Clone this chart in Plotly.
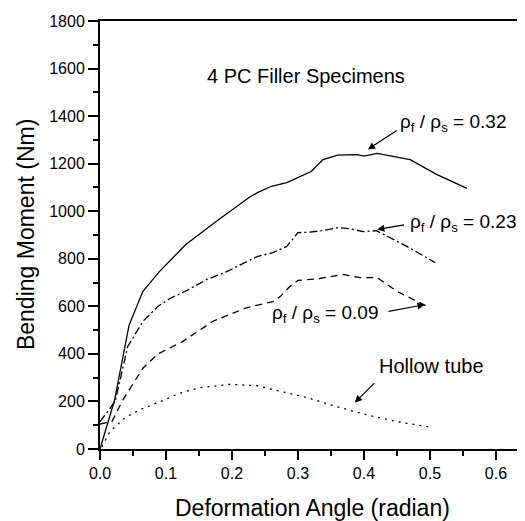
import plotly.graph_objects as go

# ---- data ----
solid_x = [0, 0.022, 0.044, 0.065, 0.09, 0.13, 0.18, 0.227, 0.24, 0.26, 0.283, 0.32, 0.338, 0.36, 0.39, 0.40, 0.42, 0.47, 0.51, 0.556]
solid_y = [0, 205, 520, 663, 746, 860, 965, 1060, 1080, 1105, 1120, 1167, 1217, 1236, 1238, 1232, 1243, 1217, 1155, 1096]

dashdot_x = [0, 0.023, 0.042, 0.065, 0.088, 0.106, 0.132, 0.162, 0.192, 0.238, 0.262, 0.283, 0.3, 0.318, 0.336, 0.361, 0.379, 0.399, 0.419, 0.465, 0.508]
dashdot_y = [115, 200, 431, 537, 600, 633, 667, 713, 746, 809, 826, 852, 910, 912, 918, 931, 926, 914, 918, 852, 784]

dash_x = [0, 0.018, 0.035, 0.065, 0.088, 0.124, 0.171, 0.222, 0.262, 0.273, 0.288, 0.3, 0.333, 0.368, 0.394, 0.42, 0.45, 0.5]
dash_y = [105, 115, 208, 340, 400, 450, 537, 594, 620, 641, 684, 709, 717, 734, 721, 721, 663, 594]

dot_x = [0.003, 0.015, 0.038, 0.061, 0.091, 0.121, 0.152, 0.197, 0.238, 0.273, 0.314, 0.359, 0.404, 0.45, 0.505]
dot_y = [10, 73, 132, 166, 199, 235, 258, 272, 266, 242, 216, 178, 144, 115, 90]

x_ticks = [0, 0.1, 0.2, 0.3, 0.4, 0.5, 0.6]
x_tick_labels = ["0.0", "0.1", "0.2", "0.3", "0.4", "0.5", "0.6"]
y_ticks = [0, 200, 400, 600, 800, 1000, 1200, 1400, 1600, 1800]
y_tick_labels = [str(v) for v in y_ticks]

FONT = "Liberation Sans, Arial, sans-serif"

fig = go.Figure()
line_w = 1.3
fig.add_trace(go.Scatter(x=solid_x, y=solid_y, mode="lines",
                         line=dict(color="black", width=line_w, dash="solid")))
fig.add_trace(go.Scatter(x=dashdot_x, y=dashdot_y, mode="lines",
                         line=dict(color="black", width=line_w, dash="8px,3px,2px,3px")))
fig.add_trace(go.Scatter(x=dash_x, y=dash_y, mode="lines",
                         line=dict(color="black", width=line_w, dash="7px,5px")))
fig.add_trace(go.Scatter(x=dot_x, y=dot_y, mode="lines",
                         line=dict(color="black", width=line_w, dash="2px,5px")))

txt = dict(color="black", size=20, family=FONT)
rho = dict(color="black", size=19, family=FONT)
texts = [
    ("4 PC Filler Specimens", 0.159, 1567, txt),
    ("ρ<sub>f</sub> / ρ<sub>s</sub> = 0.32", 0.452, 1372, rho),
    ("ρ<sub>f</sub> / ρ<sub>s</sub> = 0.23", 0.466, 951, rho),
    ("ρ<sub>f</sub> / ρ<sub>s</sub> = 0.09", 0.258, 568, rho),
    ("Hollow tube", 0.419, 347, txt),
]
for t, x, y, f in texts:
    fig.add_annotation(x=x, y=y, text=t, showarrow=False, xanchor="left",
                       yanchor="middle", font=f)

arrows = [
    ((0.452, 1344), (0.406, 1260)),
    ((0.463, 944), (0.420, 923)),
    ((0.435, 578), (0.492, 607)),
    ((0.418, 283), (0.386, 195)),
]
for (tx, ty), (hx, hy) in arrows:
    fig.add_annotation(x=hx, y=hy, ax=tx, ay=ty, axref="x", ayref="y",
                       xref="x", yref="y", text="", showarrow=True,
                       arrowhead=2, arrowsize=1.2, arrowwidth=1.2,
                       arrowcolor="black")

# axis titles
fig.add_annotation(x=0.5, y=-0.138, xref="paper", yref="paper",
                   text="Deformation Angle (radian)", showarrow=False,
                   xanchor="center", yanchor="middle",
                   font=dict(size=23, color="black", family=FONT))
fig.add_annotation(x=-0.174, y=0.5, xref="paper", yref="paper",
                   text="Bending Moment (Nm)", showarrow=False, textangle=-90,
                   xanchor="center", yanchor="middle",
                   font=dict(size=23, color="black", family=FONT))

# page body has an 8px margin, so the figure is shifted by 8px
fig.update_layout(
    width=517, height=513,
    margin=dict(l=92, r=0, t=13, b=72),
    paper_bgcolor="white", plot_bgcolor="white",
    showlegend=False,
    font=dict(family=FONT, color="black", size=16),
    xaxis=dict(range=[0, 0.644], tickvals=x_ticks, ticktext=x_tick_labels,
               showgrid=False, zeroline=False, showline=True, linecolor="black",
               linewidth=2, mirror=True, ticks="outside", ticklen=9, tickwidth=1.5,
               tickcolor="black", tickfont=dict(size=16),
               minor=dict(dtick=0.05, tick0=0, ticks="outside", ticklen=5,
                          tickwidth=1.5, tickcolor="black", showgrid=False)),
    yaxis=dict(range=[0, 1800], tickvals=y_ticks, ticktext=y_tick_labels,
               showgrid=False, zeroline=False, showline=True, linecolor="black",
               linewidth=2, ticks="outside", ticklen=10, tickwidth=1.5,
               tickcolor="black", tickfont=dict(size=16),
               minor=dict(dtick=100, tick0=0, ticks="outside", ticklen=5,
                          tickwidth=1.5, tickcolor="black", showgrid=False)),
)

fig.write_html("out.html")
